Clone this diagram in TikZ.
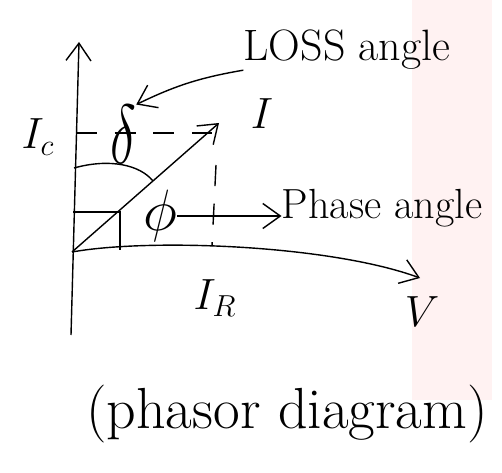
\documentclass[tikz,border=0pt]{standalone}
\usepackage{amsmath, amssymb}
\usetikzlibrary{arrows.meta}

\begin{document}
\begin{tikzpicture}[x=0.02cm, y=-0.02cm, >={Straight Barb[length=3.5mm, width=5mm]},
    lbl/.style={font=\fontsize{22}{26}\selectfont, inner sep=0pt}]
    \useasboundingbox (0,0) rectangle (502,472);
    \fill[red!5] (412,0) rectangle (492,400);
    \coordinate (O) at (72,252);
    \coordinate (ybot) at (71,335);
    \coordinate (ytop) at (79,42);
    \coordinate (vtip) at (420,278);
    \coordinate (itip) at (219,123);
    \coordinate (ic) at (76,133);
    \coordinate (icend) at (212,133);
    \coordinate (irtop) at (216,165);
    \coordinate (ir) at (212,246);
    \draw[->, thick] (ybot) -- (ytop);
    \draw[->, thick] (O) .. controls (150,238) and (330,245) .. (vtip);
    \draw[->, thick] (O) -- (itip);
    \draw[thick] (73,212) -| (120,250);
    \draw[thick] (74,168) .. controls (110,158) and (140,165) .. (153,181);
    \draw[dashed, thick, dash pattern=on 12pt off 10pt] (ic) -- (icend);
    \draw[dashed, thick, dash pattern=on 12pt off 10pt] (irtop) -- (ir);
    \node[lbl] (delta) at (123,134) {\scalebox{1.5}[2.3]{$\delta$}};
    \node[lbl] (phi) at (160,216) {\scalebox{1.6}{$\phi$}};
    \node[lbl, font=\fontsize{25}{29}\selectfont] (loss) at (347,50) {LOSS angle};
    \node[lbl, font=\fontsize{24}{28}\selectfont] (phase) at (382,208) {Phase angle};
    \node[lbl, font=\fontsize{25}{29}\selectfont] (ilbl) at (262,114) {$I$};
    \node[lbl, font=\fontsize{25}{29}\selectfont] (iclbl) at (38,137) {$I_c$};
    \node[lbl, font=\fontsize{24}{28}\selectfont] (irlbl) at (215,298) {$I_R$};
    \node[lbl, font=\fontsize{28}{32}\selectfont] (vlbl) at (422,312) {$V$};
    \node[lbl, font=\fontsize{33}{37}\selectfont] (caption) at (287,414) {(phasor diagram)};
    \draw[->, thick] (loss.south west) to[bend right=8] (delta.north east);
    \draw[->, thick] (phi.east) -- (phi.east -| phase.west);
\end{tikzpicture}
\end{document}
